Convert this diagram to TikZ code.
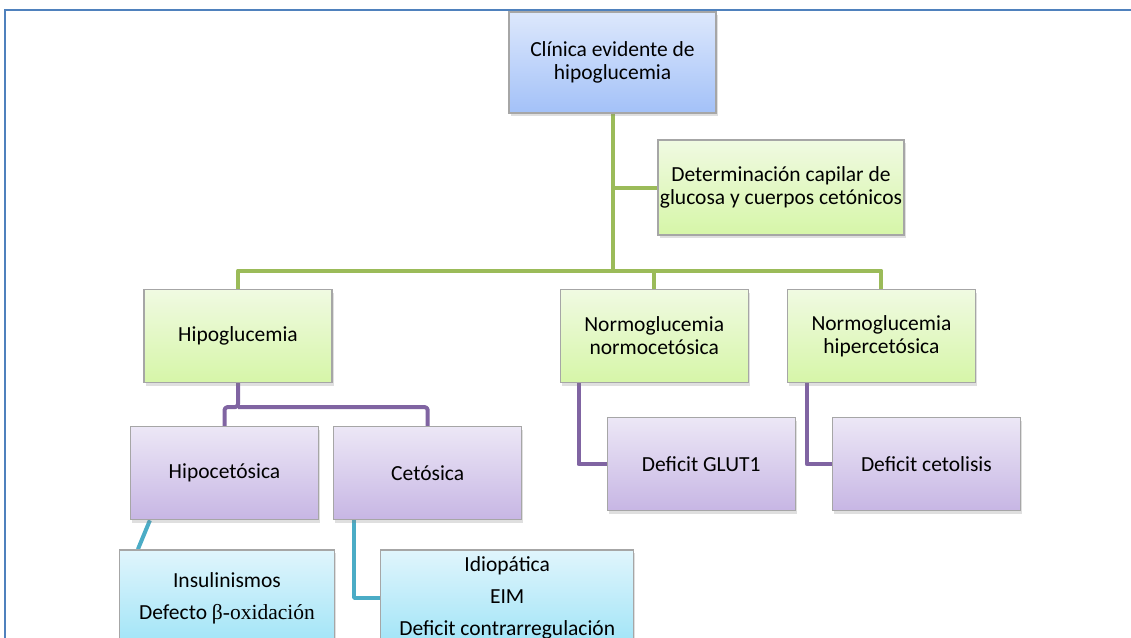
\documentclass[tikz,border=0pt]{standalone}
\usepackage{fontspec}
\setmainfont{Carlito}
\newfontfamily\greekserif{Liberation Serif}
\usetikzlibrary{positioning, shadows, backgrounds, calc}
\definecolor{framblue}{RGB}{79,129,189}
\definecolor{lnkgreen}{RGB}{155,187,89}
\definecolor{lnkpurple}{RGB}{128,100,162}
\definecolor{lnkcyan}{RGB}{75,172,198}
\definecolor{bluetop}{RGB}{221,232,252}
\definecolor{bluebot}{RGB}{163,193,248}
\definecolor{greentop}{RGB}{240,250,226}
\definecolor{greenbot}{RGB}{214,246,168}
\definecolor{purptop}{RGB}{236,231,246}
\definecolor{purpbot}{RGB}{199,182,228}
\definecolor{cyantop}{RGB}{224,245,252}
\definecolor{cyanbot}{RGB}{160,228,247}

\begin{document}
\begin{tikzpicture}[
  x=1pt, y=-1pt,
  chartbox/.style={draw=black!35, line width=1.2pt, inner sep=1pt, align=center,
                   minimum width=188pt, minimum height=93pt,
                   font=\fontsize{21.5}{23}\selectfont,
                   drop shadow={shadow xshift=1.5pt, shadow yshift=-3pt, opacity=0.25}},
  bluebox/.style={chartbox, top color=bluetop, bottom color=bluebot},
  greenbox/.style={chartbox, top color=greentop, bottom color=greenbot},
  purplebox/.style={chartbox, top color=purptop, bottom color=purpbot},
  cyanbox/.style={chartbox, top color=cyantop, bottom color=cyanbot},
  link/.style={line width=4pt, line join=round}
]
  \useasboundingbox (0,0) rectangle (1131,637);
  \clip (0,0) rectangle (1131,637);
  \draw[framblue, line width=2pt] (5,10) rectangle (1150,660);

  \node[bluebox, minimum width=207pt, minimum height=101pt] (clin) at (612.5,62.5)
    {Clínica evidente de\\hipoglucemia};
  \node[greenbox, minimum width=246pt, minimum height=95pt] (det) at (781,187.5)
    {Determinación capilar de\\glucosa y cuerpos cetónicos};
  \node[greenbox] (hipo) at (238,336) {Hipoglucemia};
  \node[greenbox, right=227pt of hipo] (normo) {Normoglucemia\\normocetósica};
  \node[greenbox, right=38pt of normo] (hiper) {Normoglucemia\\hipercetósica};
  \node[purplebox, below=43pt of hipo, xshift=-13.5pt] (hipoc) {Hipocetósica};
  \node[purplebox, right=14pt of hipoc] (ceto) {Cetósica};
  \node[purplebox, below=34pt of normo, xshift=47pt] (glut) {Deficit GLUT1};
  \node[purplebox, right=36pt of glut] (cetol) {Deficit cetolisis};
  \node[cyanbox, minimum width=215pt, minimum height=96pt, below=29pt of hipoc, xshift=2.5pt] (insul)
    {Insulinismos\\[9pt]Defecto {\greekserif β-oxidación}};
  \node[cyanbox, minimum width=253pt, minimum height=96pt, right=45pt of insul] (idio)
    {Idiopática\\[9pt]EIM\\[9pt]Deficit contrarregulación};

  \begin{scope}[on background layer]
    \coordinate (bus) at ($(clin.south)+(0,157)$);
    \draw[link, lnkgreen] (clin.south) -- (bus);
    \draw[link, lnkgreen] (clin.south |- det.west) -- (det.west);
    \draw[link, lnkgreen] (bus) -| (hipo.north);
    \draw[link, lnkgreen] (bus) -| (normo.north);
    \draw[link, lnkgreen] (bus) -| (hiper.north);
    \coordinate (split) at ($(hipo.south)+(0,24)$);
    \draw[link, lnkpurple, rounded corners=3pt] (hipo.south) -- (split) -| (hipoc.north);
    \draw[link, lnkpurple, rounded corners=3pt] (split) -| (ceto.north);
    \draw[link, lnkpurple] ($(normo.south west)+(19,0)$) |- (glut.west);
    \draw[link, lnkpurple] ($(hiper.south west)+(20,0)$) |- (cetol.west);
    \draw[link, lnkcyan] ($(hipoc.south west)+(20,0)$) -- ($(insul.north west)+(19,0)$);
    \draw[link, lnkcyan] ($(ceto.south west)+(21,0)$) |- (idio.west);
  \end{scope}
\end{tikzpicture}
\end{document}
